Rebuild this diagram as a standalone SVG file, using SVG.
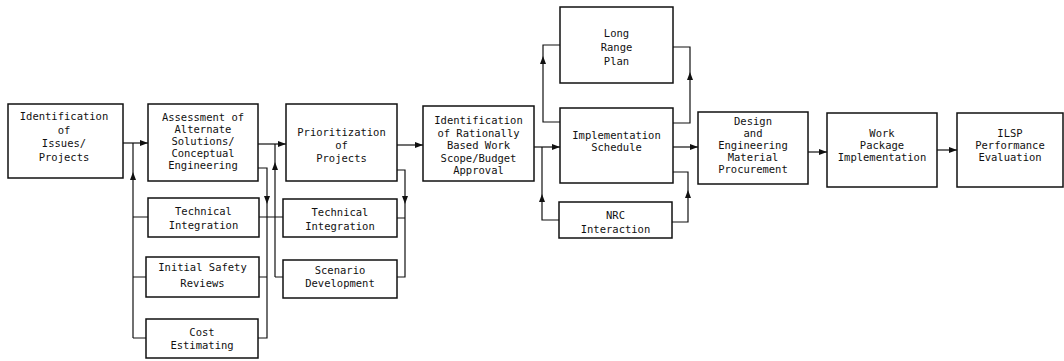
<svg xmlns="http://www.w3.org/2000/svg" width="1064" height="361" viewBox="0 0 1064 361">
<style>
.box{fill:#fff;stroke:#111;stroke-width:1.5}
.t{font-family:"DejaVu Sans Mono","Liberation Mono",monospace;font-size:10.5px;fill:#111;text-anchor:middle}
.c{fill:none;stroke:#111;stroke-width:1.2}
.a{fill:none;stroke:#111;stroke-width:1.2;marker-end:url(#ah)}
</style>
<defs>
<marker id="ah" viewBox="0 0 8 6" refX="8" refY="3" markerWidth="8" markerHeight="6" markerUnits="userSpaceOnUse" orient="auto"><path d="M0,0 L8,3 L0,6 z" fill="#111"/></marker>
</defs>
<rect width="1064" height="361" fill="#fff"/>
<g id="connectors">
<path class="a" d="M123,143 H148"/>
<path class="a" d="M133,338 V172"/>
<path class="c" d="M133,172 V143 M133,217 H148 M133,277 H146 M133,338 H146"/>
<path class="a" d="M258,144 H286"/>
<path class="a" d="M258,168 H267 V204"/>
<path class="c" d="M267,204 V338 H258 M259,277 H267"/>
<path class="a" d="M275,277 V162"/>
<path class="c" d="M275,162 V144 M259,217 H283 M275,277 H283"/>
<path class="a" d="M397,145 H423"/>
<path class="a" d="M397,170 H405 V204"/>
<path class="c" d="M405,204 V277 H397 M397,218 H405"/>
<path class="a" d="M534,147 H560"/>
<path class="a" d="M560,122 H543 V56"/>
<path class="c" d="M543,56 V45 H560"/>
<path class="a" d="M559,220 H542 V194"/>
<path class="c" d="M542,194 V147"/>
<path class="a" d="M673,123 H690 V72"/>
<path class="c" d="M690,72 V47 H673"/>
<path class="a" d="M673,147 H698"/>
<path class="a" d="M672,222 H688 V190"/>
<path class="c" d="M688,190 V172 H673"/>
<path class="a" d="M808,152 H827"/>
<path class="a" d="M937,150 H957"/>
</g>
<g id="n1"><rect class="box" x="8" y="104" width="115" height="74"/>
<text class="t" x="64" y="120">Identification</text><text class="t" x="64" y="134">of</text><text class="t" x="64" y="147">Issues/</text><text class="t" x="64" y="161">Projects</text></g>
<g id="n2"><rect class="box" x="148" y="104" width="110" height="77"/>
<text class="t" x="203" y="121">Assessment of</text><text class="t" x="203" y="133">Alternate</text><text class="t" x="203" y="145">Solutions/</text><text class="t" x="203" y="157">Conceptual</text><text class="t" x="203" y="169">Engineering</text></g>
<g id="n3"><rect class="box" x="148" y="198" width="111" height="39"/>
<text class="t" x="203.5" y="215">Technical</text><text class="t" x="203.5" y="229">Integration</text></g>
<g id="n4"><rect class="box" x="146" y="257" width="113" height="40"/>
<text class="t" x="202.5" y="271">Initial Safety</text><text class="t" x="202.5" y="287">Reviews</text></g>
<g id="n5"><rect class="box" x="146" y="319" width="112" height="39"/>
<text class="t" x="202" y="336">Cost</text><text class="t" x="202" y="349">Estimating</text></g>
<g id="n6"><rect class="box" x="286" y="104" width="111" height="77"/>
<text class="t" x="341.5" y="136">Prioritization</text><text class="t" x="341.5" y="149">of</text><text class="t" x="341.5" y="162">Projects</text></g>
<g id="n7"><rect class="box" x="283" y="199" width="114" height="38"/>
<text class="t" x="340" y="216">Technical</text><text class="t" x="340" y="230">Integration</text></g>
<g id="n8"><rect class="box" x="283" y="260" width="114" height="38"/>
<text class="t" x="340" y="274">Scenario</text><text class="t" x="340" y="287">Development</text></g>
<g id="n9"><rect class="box" x="423" y="106" width="111" height="75"/>
<text class="t" x="478.5" y="124">Identification</text><text class="t" x="478.5" y="136.5">of Rationally</text><text class="t" x="478.5" y="149">Based Work</text><text class="t" x="478.5" y="161.5">Scope/Budget</text><text class="t" x="478.5" y="174">Approval</text></g>
<g id="n10"><rect class="box" x="560" y="7" width="113" height="76"/>
<text class="t" x="616.5" y="37">Long</text><text class="t" x="616.5" y="51">Range</text><text class="t" x="616.5" y="65">Plan</text></g>
<g id="n11"><rect class="box" x="560" y="108" width="113" height="75"/>
<text class="t" x="616.5" y="139">Implementation</text><text class="t" x="616.5" y="151">Schedule</text></g>
<g id="n12"><rect class="box" x="559" y="202" width="113" height="36"/>
<text class="t" x="615.5" y="219">NRC</text><text class="t" x="615.5" y="233">Interaction</text></g>
<g id="n13"><rect class="box" x="698" y="112" width="110" height="72"/>
<text class="t" x="753" y="125">Design</text><text class="t" x="753" y="137">and</text><text class="t" x="753" y="149">Engineering</text><text class="t" x="753" y="161">Material</text><text class="t" x="753" y="173">Procurement</text></g>
<g id="n14"><rect class="box" x="827" y="113" width="110" height="74"/>
<text class="t" x="882" y="137">Work</text><text class="t" x="882" y="149">Package</text><text class="t" x="882" y="161">Implementation</text></g>
<g id="n15"><rect class="box" x="957" y="113" width="106" height="74"/>
<text class="t" x="1010" y="137">ILSP</text><text class="t" x="1010" y="149">Performance</text><text class="t" x="1010" y="161">Evaluation</text></g>
</svg>
